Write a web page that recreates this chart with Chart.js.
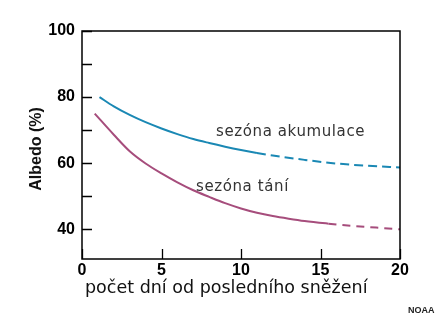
<!DOCTYPE html>
<html>
<head>
<meta charset="utf-8">
<script src="https://cdn.jsdelivr.net/npm/chart.js@4.4.1/dist/chart.umd.min.js"></script>
<style>
html,body{margin:0;padding:0;background:#fff;}
canvas{display:block;}
</style>
</head>
<body>
<canvas id="c" width="440" height="320"></canvas>
<script>
// ---- data ----
const accumDays   = [1.1, 2, 3, 4, 5, 6, 7, 8, 9, 10, 11, 12, 14, 16, 18, 20];
const accumAlbedo = [80, 77.2, 74.6, 72.4, 70.5, 68.8, 67.3, 66.1, 65.0, 64.0, 63.1, 62.3, 61.0, 59.9, 59.2, 58.7];
const meltDays    = [0.8, 2, 3, 4, 5, 6, 7, 8, 9, 10, 11, 12, 13, 14, 15.5, 17, 18.5, 20];
const meltAlbedo  = [75, 68.6, 63.6, 59.9, 56.9, 54.2, 51.8, 49.8, 47.9, 46.3, 45.0, 44.0, 43.2, 42.5, 41.7, 41.0, 40.5, 40.0];
const accumDashFrom = 11;
const meltDashFrom  = 15.5;
const xTickValues = [0, 5, 10, 15, 20];
const yTickValues = [40, 50, 60, 70, 80, 90, 100];
const yLabelValues = [40, 60, 80, 100];
const seriesNames = ['sezóna akumulace', 'sezóna tání'];
const xTitle = 'počet dní od posledního sněžení';
const yTitle = 'Albedo (%)';
const credit = 'NOAA';

const BLUE = '#1a88b4';
const PINK = '#a64d7c';

function pts(xs, ys){ return xs.map((x,i)=>({x:x, y:ys[i]})); }

const decor = {
  id: 'decor',
  afterDatasetsDraw(chart){
    const ctx = chart.ctx, a = chart.chartArea;
    const xs = chart.scales.x, ys = chart.scales.y;
    ctx.save();
    // frame
    ctx.strokeStyle = '#000';
    ctx.lineWidth = 1.5;
    ctx.strokeRect(a.left, a.top, a.right - a.left, a.bottom - a.top);
    // inward ticks
    ctx.lineWidth = 1.3;
    ctx.beginPath();
    yTickValues.forEach(v=>{
      const y = Math.round(ys.getPixelForValue(v)) + 0.5;
      ctx.moveTo(a.left, y); ctx.lineTo(a.left + 10, y);
    });
    xTickValues.forEach(v=>{
      const x = Math.round(xs.getPixelForValue(v)) + 0.5;
      ctx.moveTo(x, a.bottom); ctx.lineTo(x, a.bottom - 10);
    });
    ctx.stroke();
    // series annotations
    ctx.fillStyle = '#333';
    ctx.font = '15px "DejaVu Sans"';
    ctx.letterSpacing = '0.6px';
    ctx.textBaseline = 'alphabetic';
    ctx.textAlign = 'left';
    ctx.fillText(seriesNames[0], xs.getPixelForValue(8.43), ys.getPixelForValue(68.3));
    ctx.fillText(seriesNames[1], xs.getPixelForValue(7.17), ys.getPixelForValue(51.5));
    ctx.letterSpacing = '0px';
    // x title
    ctx.fillStyle = '#111';
    ctx.font = '17.5px "DejaVu Sans"';
    ctx.fillText(xTitle, 85, 293);
    // y title
    ctx.save();
    ctx.translate(37, 149);
    ctx.rotate(-Math.PI/2);
    ctx.textAlign = 'center';
    ctx.textBaseline = 'middle';
    ctx.font = 'bold 16px "Liberation Sans"';
    ctx.fillText(yTitle, 0, 0);
    ctx.restore();
    // credit
    ctx.fillStyle = '#222';
    ctx.font = 'bold 9px "Liberation Sans"';
    ctx.fillText(credit, 408, 313);
    ctx.restore();
  }
};

new Chart(document.getElementById('c'), {
  type: 'line',
  data: {
    datasets: [
      {
        label: seriesNames[0],
        data: pts(accumDays, accumAlbedo),
        borderColor: BLUE,
        borderWidth: 2,
        pointRadius: 0,
        fill: false,
        cubicInterpolationMode: 'monotone',
        segment: { borderDash: c => c.p0.parsed.x >= accumDashFrom ? [9,5] : undefined }
      },
      {
        label: seriesNames[1],
        data: pts(meltDays, meltAlbedo),
        borderColor: PINK,
        borderWidth: 2,
        pointRadius: 0,
        fill: false,
        cubicInterpolationMode: 'monotone',
        segment: { borderDash: c => c.p0.parsed.x >= meltDashFrom ? [8,6] : undefined }
      }
    ]
  },
  options: {
    responsive: false,
    animation: false,
    devicePixelRatio: 1,
    layout: { padding: { top: 31, right: 40, left: 0, bottom: 0 } },
    plugins: { legend: { display: false }, tooltip: { enabled: false } },
    scales: {
      x: {
        type: 'linear', min: 0, max: 20,
        afterBuildTicks: s => { s.ticks = xTickValues.map(v=>({value:v})); },
        afterFit: s => { s.height = 61; },
        grid: { display: false, drawTicks: false },
        border: { display: false },
        ticks: {
          padding: 2,
          color: '#000',
          font: { family: 'Liberation Sans', size: 16, weight: 'bold' },
          maxRotation: 0,
          callback: v => String(v)
        }
      },
      y: {
        type: 'linear', min: 31, max: 100,
        afterBuildTicks: s => { s.ticks = yTickValues.map(v=>({value:v})); },
        afterFit: s => { s.width = 82; },
        grid: { display: false, drawTicks: false },
        border: { display: false },
        ticks: {
          padding: 7,
          color: '#000',
          font: { family: 'Liberation Sans', size: 16, weight: 'bold' },
          callback: v => yLabelValues.includes(v) ? String(v) : ''
        }
      }
    }
  },
  plugins: [decor]
});
</script>
</body>
</html>
